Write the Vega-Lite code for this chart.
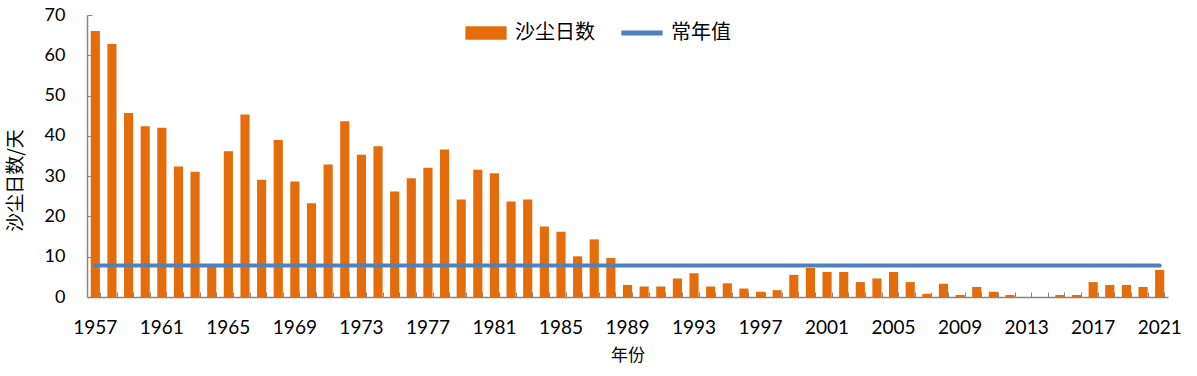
{
  "$schema": "https://vega.github.io/schema/vega-lite/v6.json",
  "autosize": "none",
  "width": 1081,
  "height": 282,
  "padding": {"left": 87, "top": 15, "right": 29, "bottom": 79},
  "background": "white",
  "config": {"view": {"stroke": null}, "font": "Lato"},
  "data": {"values": [
    {"year": 1957, "days": 66.0, "normal": 7.8},
    {"year": 1958, "days": 62.8, "normal": 7.8},
    {"year": 1959, "days": 45.7, "normal": 7.8},
    {"year": 1960, "days": 42.4, "normal": 7.8},
    {"year": 1961, "days": 42.0, "normal": 7.8},
    {"year": 1962, "days": 32.4, "normal": 7.8},
    {"year": 1963, "days": 31.1, "normal": 7.8},
    {"year": 1964, "days": 7.6, "normal": 7.8},
    {"year": 1965, "days": 36.2, "normal": 7.8},
    {"year": 1966, "days": 45.3, "normal": 7.8},
    {"year": 1967, "days": 29.1, "normal": 7.8},
    {"year": 1968, "days": 39.0, "normal": 7.8},
    {"year": 1969, "days": 28.7, "normal": 7.8},
    {"year": 1970, "days": 23.3, "normal": 7.8},
    {"year": 1971, "days": 32.9, "normal": 7.8},
    {"year": 1972, "days": 43.6, "normal": 7.8},
    {"year": 1973, "days": 35.3, "normal": 7.8},
    {"year": 1974, "days": 37.4, "normal": 7.8},
    {"year": 1975, "days": 26.2, "normal": 7.8},
    {"year": 1976, "days": 29.5, "normal": 7.8},
    {"year": 1977, "days": 32.1, "normal": 7.8},
    {"year": 1978, "days": 36.6, "normal": 7.8},
    {"year": 1979, "days": 24.2, "normal": 7.8},
    {"year": 1980, "days": 31.6, "normal": 7.8},
    {"year": 1981, "days": 30.7, "normal": 7.8},
    {"year": 1982, "days": 23.7, "normal": 7.8},
    {"year": 1983, "days": 24.2, "normal": 7.8},
    {"year": 1984, "days": 17.5, "normal": 7.8},
    {"year": 1985, "days": 16.2, "normal": 7.8},
    {"year": 1986, "days": 10.1, "normal": 7.8},
    {"year": 1987, "days": 14.3, "normal": 7.8},
    {"year": 1988, "days": 9.7, "normal": 7.8},
    {"year": 1989, "days": 3.0, "normal": 7.8},
    {"year": 1990, "days": 2.6, "normal": 7.8},
    {"year": 1991, "days": 2.6, "normal": 7.8},
    {"year": 1992, "days": 4.6, "normal": 7.8},
    {"year": 1993, "days": 5.9, "normal": 7.8},
    {"year": 1994, "days": 2.6, "normal": 7.8},
    {"year": 1995, "days": 3.4, "normal": 7.8},
    {"year": 1996, "days": 2.1, "normal": 7.8},
    {"year": 1997, "days": 1.3, "normal": 7.8},
    {"year": 1998, "days": 1.7, "normal": 7.8},
    {"year": 1999, "days": 5.5, "normal": 7.8},
    {"year": 2000, "days": 7.2, "normal": 7.8},
    {"year": 2001, "days": 6.2, "normal": 7.8},
    {"year": 2002, "days": 6.2, "normal": 7.8},
    {"year": 2003, "days": 3.7, "normal": 7.8},
    {"year": 2004, "days": 4.6, "normal": 7.8},
    {"year": 2005, "days": 6.2, "normal": 7.8},
    {"year": 2006, "days": 3.7, "normal": 7.8},
    {"year": 2007, "days": 0.8, "normal": 7.8},
    {"year": 2008, "days": 3.3, "normal": 7.8},
    {"year": 2009, "days": 0.5, "normal": 7.8},
    {"year": 2010, "days": 2.5, "normal": 7.8},
    {"year": 2011, "days": 1.3, "normal": 7.8},
    {"year": 2012, "days": 0.5, "normal": 7.8},
    {"year": 2013, "days": 0.0, "normal": 7.8},
    {"year": 2014, "days": 0.0, "normal": 7.8},
    {"year": 2015, "days": 0.5, "normal": 7.8},
    {"year": 2016, "days": 0.5, "normal": 7.8},
    {"year": 2017, "days": 3.7, "normal": 7.8},
    {"year": 2018, "days": 3.0, "normal": 7.8},
    {"year": 2019, "days": 3.0, "normal": 7.8},
    {"year": 2020, "days": 2.5, "normal": 7.8},
    {"year": 2021, "days": 6.7, "normal": 7.8}
  ]},
  "resolve": {"axis": {"x": "independent", "y": "independent"}},
  "layer": [
    {
      "mark": {"type": "bar"},
      "encoding": {
        "x": {
          "field": "year", "type": "ordinal",
          "scale": {"paddingInner": 0.45, "paddingOuter": 0.225},
          "axis": {
            "orient": "bottom",
            "values": [1957, 1961, 1965, 1969, 1973, 1977, 1981, 1985, 1989, 1993, 1997, 2001, 2005, 2009, 2013, 2017, 2021],
            "labelAngle": 0,
            "ticks": false,
            "domainColor": "#868686",
            "domainWidth": 1.5,
            "labelFont": "Lato",
            "labelFontSize": 19,
            "labelColor": "#000000",
            "labelPadding": 21,
            "title": "年份",
            "titleFont": "Noto Sans CJK SC",
            "titleFontSize": 17,
            "titleFontWeight": "normal",
            "titleColor": "#000000",
            "titleBaseline": "middle",
            "titleY": 58
          }
        },
        "y": {
          "field": "days", "type": "quantitative",
          "scale": {"domain": [0, 70]},
          "axis": {
            "orient": "left",
            "values": [0, 10, 20, 30, 40, 50, 60, 70],
            "grid": false,
            "ticks": false,
            "domainColor": "#868686",
            "domainWidth": 1.5,
            "labelFont": "Lato",
            "labelFontSize": 18,
            "labelColor": "#000000",
            "labelPadding": 22,
            "title": "沙尘日数/天",
            "titleFont": "Noto Sans CJK SC",
            "titleFontSize": 19,
            "titleFontWeight": "normal",
            "titleColor": "#000000",
            "titleAngle": 270,
            "titleBaseline": "middle",
            "titleAlign": "center",
            "titleX": -72,
            "titleY": 165
          }
        },
        "color": {
          "datum": "沙尘日数",
          "scale": {"domain": ["沙尘日数", "常年值"], "range": ["#E46C0A", "#4F81BD"]},
          "legend": {
            "title": null,
            "orient": "none",
            "direction": "horizontal",
            "legendX": 378,
            "legendY": -3,
            "padding": 0,
            "symbolSize": 1700,
            "symbolType": "M-1,-0.33H1V0.33H-1Z",
            "labelFont": "Noto Sans CJK SC",
            "labelFontSize": 20,
            "labelColor": "#000000",
            "labelOffset": 8,
            "columnPadding": 26,
            "encode": {
              "symbols": {
                "update": {
                  "shape": {"signal": "datum.value === '沙尘日数' ? 'M-1,-0.33H1V0.33H-1Z' : 'M-1,-0.12H1V0.12H-1Z'"},
                  "fill": {"signal": "datum.value === '沙尘日数' ? '#E46C0A' : '#4F81BD'"},
                  "stroke": {"value": "transparent"},
                  "strokeWidth": {"value": 0},
                  "opacity": {"value": 1}
                }
              }
            }
          }
        }
      }
    },
    {
      "mark": {"type": "line", "strokeWidth": 4, "strokeCap": "round"},
      "encoding": {
        "x": {
          "field": "year", "type": "ordinal",
          "axis": {
            "orient": "top",
            "offset": -282,
            "labels": false,
            "domain": false,
            "ticks": true,
            "tickBand": "extent",
            "tickSize": 5,
            "tickColor": "#868686",
            "tickWidth": 1,
            "title": null
          }
        },
        "y": {
          "field": "normal", "type": "quantitative",
          "axis": {
            "orient": "right",
            "offset": -1081,
            "labels": false,
            "domain": false,
            "ticks": true,
            "tickSize": 5,
            "tickColor": "#868686",
            "values": [0, 10, 20, 30, 40, 50, 60, 70],
            "grid": false,
            "title": null
          }
        },
        "color": {"datum": "常年值"}
      }
    }
  ]
}
